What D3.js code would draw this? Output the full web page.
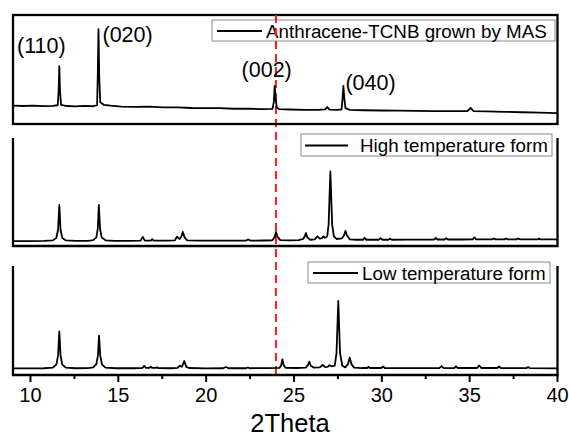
<!DOCTYPE html>
<html><head><meta charset="utf-8">
<script src="https://cdn.jsdelivr.net/npm/d3@7"></script>
<style>body{margin:0;background:#fff}svg{display:block}text{font-family:"Liberation Sans",Arial,sans-serif;fill:#000}</style>
</head><body><svg id="c" width="569" height="438"></svg>
<script>
const xTicks=[10,15,20,25,30,35,40];
const xMinorTicks=[12.5,17.5,22.5,27.5,32.5,37.5];
const xTitle="2Theta";
const seriesNames=["Anthracene-TCNB grown by MAS","High temperature form","Low temperature form"];
const peakLabels=["(110)","(020)","(002)","(040)"];
const peakLabelTheta=[11.67,13.9,23.93,27.84];
const refLineTheta=24;

const masData=[[9.05,16.8],[9.6,16.5],[10.2,16.9],[10.8,16.4],[11.3,16.7],[11.58,17.2],[11.63,30],[11.67,53],[11.71,30],[11.77,17.6],[12.1,16.5],[12.6,16.2],[13.1,16.6],[13.6,16.3],[13.82,17.2],[13.86,45],[13.9,87],[13.94,45],[14.0,20],[14.2,17.6],[14.6,16.8],[15.2,16.0],[16.0,15.7],[16.8,15.9],[17.6,15.2],[18.4,15.3],[19.2,14.7],[20.0,14.5],[20.8,14.6],[21.6,14.0],[22.4,14.1],[23.2,13.6],[23.8,13.8],[23.88,20],[23.93,35],[23.98,24],[24.05,15],[24.2,13.6],[24.8,13.3],[25.6,13.0],[26.4,12.9],[26.8,13.4],[26.92,15.6],[27.05,13.2],[27.5,12.9],[27.74,13.4],[27.79,23],[27.84,35],[27.89,24],[27.96,14.5],[28.2,13.0],[29.0,12.6],[30.0,12.4],[31.0,12.2],[32.0,12.1],[33.0,11.9],[34.0,11.8],[34.9,11.9],[35.08,14.8],[35.25,11.9],[36.0,11.5],[37.0,11.2],[38.0,10.8],[39.0,10.4],[40.0,10.0]];

const highData=[[9.05,4.6],[10.0,4.6],[10.8,4.7],[11.3,5.2],[11.5,7.5],[11.6,15],[11.67,38],[11.74,15],[11.84,7.5],[12.05,5.2],[12.6,4.7],[13.3,4.8],[13.6,5.4],[13.78,8],[13.86,16],[13.92,38],[13.99,16],[14.08,8],[14.3,5.3],[14.8,4.8],[15.6,4.8],[16.3,5.0],[16.42,8.5],[16.54,5.0],[16.88,4.9],[16.96,6.3],[17.04,4.9],[17.8,4.9],[18.25,5.3],[18.37,8.6],[18.5,6.5],[18.6,8],[18.7,13],[18.8,8],[18.95,5.2],[19.6,4.9],[20.5,4.9],[21.5,5.0],[22.3,5.0],[22.42,6.0],[22.55,5.0],[23.3,5.1],[23.8,5.3],[23.93,8.5],[24.01,13],[24.09,8.5],[24.25,5.4],[24.8,5.3],[25.3,5.4],[25.55,6.5],[25.64,9],[25.71,12],[25.79,8],[25.95,5.8],[26.2,6.2],[26.36,9],[26.5,6.8],[26.62,7.2],[26.7,9],[26.8,7.5],[26.92,9],[27.0,20],[27.1,69],[27.2,20],[27.3,9],[27.45,6.5],[27.75,7],[27.88,10],[27.96,14],[28.04,10],[28.2,6.2],[28.6,5.8],[28.95,5.8],[29.05,7.4],[29.15,5.8],[29.85,5.8],[29.96,7.2],[30.07,5.8],[30.4,5.8],[30.5,6.8],[30.6,5.8],[31.5,5.9],[32.5,5.9],[33.0,6.0],[33.1,7.4],[33.2,6.0],[33.6,6.0],[33.7,7.2],[33.8,6.0],[34.6,6.0],[35.2,6.1],[35.3,8.0],[35.4,6.1],[36.3,6.1],[36.4,7.0],[36.5,6.1],[37.0,6.1],[37.1,7.0],[37.2,6.1],[37.7,6.1],[37.8,7.0],[37.9,6.1],[38.9,6.1],[38.97,7.0],[39.05,6.1],[40.0,6.2]];

const lowData=[[9.05,6.1],[10.0,6.1],[10.8,6.2],[11.3,6.8],[11.5,9.5],[11.6,18],[11.67,40],[11.74,18],[11.84,9.5],[12.05,6.7],[12.6,6.2],[13.3,6.3],[13.6,7],[13.78,10],[13.87,18],[13.93,36],[14.0,18],[14.1,9.5],[14.3,6.8],[14.9,6.2],[15.8,6.2],[16.4,6.4],[16.5,8.3],[16.6,6.5],[16.8,6.6],[16.87,7.6],[16.95,6.6],[17.15,6.6],[17.22,7.0],[17.3,6.3],[18.0,6.2],[18.4,6.6],[18.54,8.5],[18.65,7.5],[18.78,12.8],[18.9,7.5],[19.05,6.4],[20.0,6.1],[21.0,6.2],[21.15,7.3],[21.3,6.2],[22.3,6.2],[22.4,6.9],[22.5,6.2],[23.5,6.3],[24.2,6.5],[24.3,9],[24.37,14.4],[24.44,9],[24.55,6.6],[25.2,6.4],[25.7,6.7],[25.82,9],[25.9,12.2],[25.98,8.5],[26.15,6.8],[26.5,7],[26.66,9.2],[26.8,7.3],[26.95,7.5],[27.04,9],[27.15,8],[27.35,8.5],[27.45,20],[27.55,68],[27.65,20],[27.78,8.5],[27.95,7],[28.1,10],[28.2,15.9],[28.3,10],[28.45,6.8],[28.9,6.4],[29.2,6.4],[29.26,7.6],[29.35,6.4],[30.0,6.4],[30.1,7.8],[30.2,6.4],[31,6.3],[32,6.3],[33.3,6.3],[33.43,8.0],[33.55,6.3],[34.15,6.4],[34.25,8.0],[34.35,6.4],[35.45,6.4],[35.57,8.7],[35.7,6.4],[36.6,6.4],[36.7,7.8],[36.8,6.4],[38.25,6.3],[38.36,7.3],[38.45,6.3],[40,6.1]];

const svg=d3.select("#c");
const x=d3.scaleLinear().domain([9,40]).range([12.4,557]);
const L=13,R=557.5;
const panels=[
 {data:masData,name:seriesNames[0],top:15,bottom:124,box:true,leg:{x0:212,x1:555,y0:20,y1:41,l0:217,l1:262,tx:266,ty:38}},
 {data:highData,name:seriesNames[1],top:138,bottom:246,box:false,leg:{x0:301,x1:552,y0:134,y1:156,l0:305,l1:348,tx:360,ty:152}},
 {data:lowData,name:seriesNames[2],top:266,bottom:375,box:false,leg:{x0:308,x1:550,y0:262,y1:283,l0:313,l1:358,tx:362,ty:280}}
];
panels.forEach(p=>{
  p.y=d3.scaleLinear().domain([0,100]).range([p.bottom,p.top]);
});

svg.append("line").attr("x1",x(refLineTheta)).attr("x2",x(refLineTheta))
  .attr("y1",15).attr("y2",376).attr("stroke","#ff1a1a").attr("stroke-width",2)
  .attr("stroke-dasharray","8,5");

panels.forEach((p,i)=>{
  const g=svg.append("g");
  const line=d3.line().x(d=>x(d[0])).y(d=>p.y(d[1]));
  g.append("path").datum(p.data).attr("d",line).attr("fill","none")
    .attr("stroke","#000").attr("stroke-width",1.8).attr("stroke-linejoin","round");
  if(p.box){
    g.append("rect").attr("x",L).attr("y",p.top).attr("width",R-L).attr("height",p.bottom-p.top)
      .attr("fill","none").attr("stroke","#000").attr("stroke-width",2.3);
  } else {
    g.append("path").attr("d",`M${L},${p.top}V${p.bottom}H${R}V${p.top}`)
      .attr("fill","none").attr("stroke","#000").attr("stroke-width",2.3);
  }
  const lg=p.leg;
  g.append("rect").attr("x",lg.x0).attr("y",lg.y0).attr("width",lg.x1-lg.x0).attr("height",lg.y1-lg.y0)
    .attr("fill","#fff").attr("stroke","#8a8a8a").attr("stroke-width",1);
  g.append("line").attr("x1",lg.l0).attr("x2",lg.l1).attr("y1",(lg.y0+lg.y1)/2+0.5).attr("y2",(lg.y0+lg.y1)/2+0.5)
    .attr("stroke","#000").attr("stroke-width",1.8);
  g.append("text").attr("x",lg.tx).attr("y",lg.ty).attr("font-size",18.8).text(p.name);
});

svg.append("line").attr("x1",x(refLineTheta)).attr("x2",x(refLineTheta))
  .attr("y1",15).attr("y2",45).attr("stroke","#ff1a1a").attr("stroke-width",2)
  .attr("stroke-dasharray","8,5");

const bp=panels[2];
const axis=d3.axisBottom(x).tickValues(xTicks).tickSize(7).tickPadding(6).tickFormat(d3.format("d"));
const ag=svg.append("g").attr("transform",`translate(0,${bp.bottom})`).call(axis);
ag.select(".domain").remove();
ag.selectAll(".tick line").attr("stroke","#000").attr("stroke-width",2);
ag.selectAll(".tick text").attr("font-size",20).attr("font-family","Liberation Sans, Arial, sans-serif").attr("fill","#000");
const minor=d3.axisBottom(x).tickValues(xMinorTicks).tickSize(4).tickFormat("");
const mg=svg.append("g").attr("transform",`translate(0,${bp.bottom})`).call(minor);
mg.select(".domain").remove();
mg.selectAll(".tick line").attr("stroke","#000").attr("stroke-width",2);

svg.append("text").attr("x",290).attr("y",432).attr("text-anchor","middle").attr("font-size",25.5).text(xTitle);

const labelLayout=[{dx:-18,y:53},{dx:4,y:42},{dx:-8,y:77},{dx:2,y:90}];
peakLabels.forEach((t,i)=>{
  const lay=labelLayout[i];
  const anchor = i===0||i===2 ? "middle" : "start";
  svg.append("text").attr("x",x(peakLabelTheta[i])+lay.dx).attr("y",lay.y)
    .attr("text-anchor",anchor).attr("font-size",21.5).text(t);
});
</script></body></html>
